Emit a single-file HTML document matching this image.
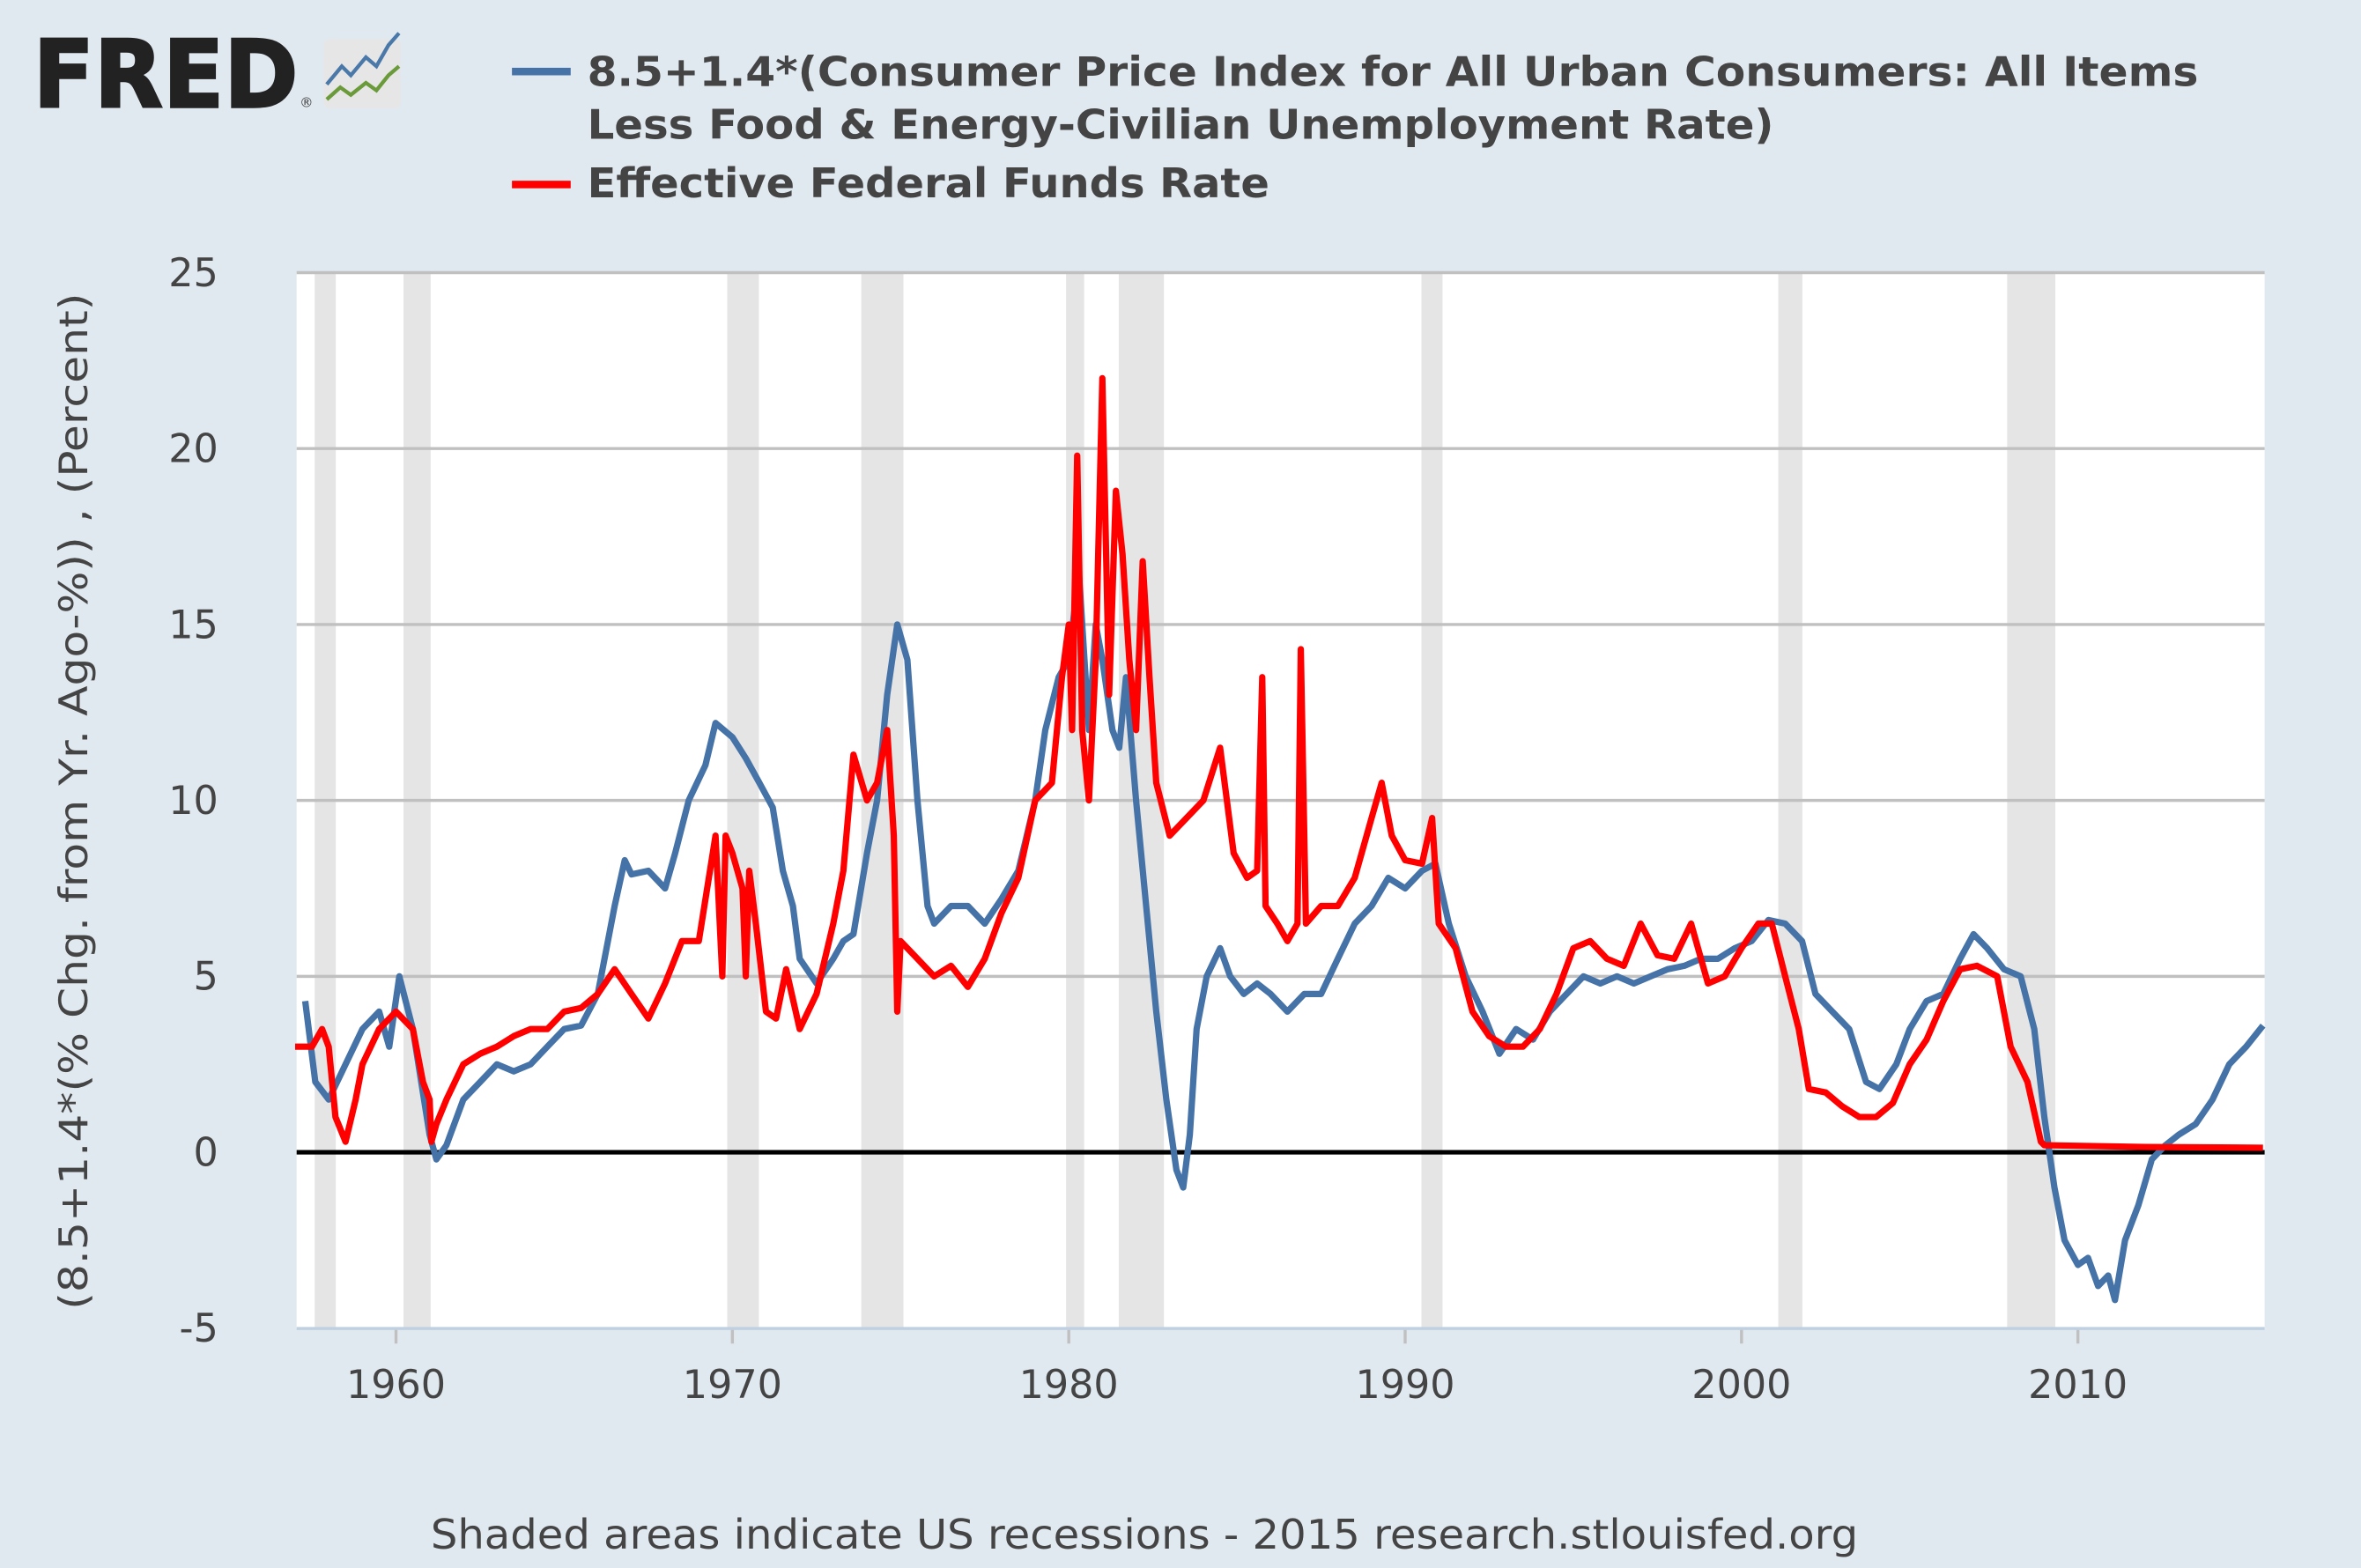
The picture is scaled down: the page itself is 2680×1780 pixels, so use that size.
<!DOCTYPE html>
<html><head><meta charset="utf-8"><style>
html,body{margin:0;padding:0;background:#e1e9f0;}
svg{display:block}
text{font-family:"DejaVu Sans","Liberation Sans",sans-serif;}
</style></head><body>
<svg id="s" width="2680" height="1780" viewBox="0 0 1568 1041" preserveAspectRatio="none" xmlns="http://www.w3.org/2000/svg">
<rect width="1568" height="1041" fill="#e1e9f0"/>
<text x="22" y="71" font-family="Liberation Sans" font-weight="bold" font-size="62" fill="#222" textLength="176" lengthAdjust="spacingAndGlyphs" stroke="#222" stroke-width="1.5">FRED</text>
<text x="199" y="71" font-size="9" fill="#444">®</text>
<rect x="215" y="26" width="51" height="46" rx="4" fill="#e6e6e6"/>
<polyline points="217,56 227,44 233,50 243,38 250,44 258,30 265,22" fill="none" stroke="#4a78a8" stroke-width="2.5"/>
<polyline points="217,66 226,58 233,63 243,55 250,60 258,50 265,44" fill="none" stroke="#6a9a3a" stroke-width="2.5"/>
<rect x="340" y="45" width="39" height="5" fill="#4572a7"/>
<rect x="340" y="120" width="39" height="5" fill="#ff0000"/>
<g font-weight="bold" font-size="27" fill="#444">
<text x="390" y="57" textLength="1070" lengthAdjust="spacingAndGlyphs">8.5+1.4*(Consumer Price Index for All Urban Consumers: All Items</text>
<text x="390" y="92" textLength="788" lengthAdjust="spacingAndGlyphs">Less Food &amp; Energy-Civilian Unemployment Rate)</text>
<text x="390" y="131" textLength="453" lengthAdjust="spacingAndGlyphs">Effective Federal Funds Rate</text>
</g>
<rect x="197" y="181" width="1307" height="701" fill="#fff"/>
<g id="rec" fill="#e5e5e5"></g>
<g id="grid" stroke="#c0c0c0" stroke-width="2"></g>
<g id="ylab" font-size="26" fill="#444" text-anchor="end"></g>
<g id="xlab" font-size="26" fill="#444" text-anchor="middle"></g>
<line x1="197" y1="882" x2="1504" y2="882" stroke="#c0d0e0" stroke-width="2"/>
<line x1="197" y1="765" x2="1504" y2="765" stroke="#000" stroke-width="3"/>
<polyline id="blue" fill="none" stroke="#4572a7" stroke-width="4.2" stroke-linejoin="round"/>
<polyline id="red" fill="none" stroke="#ff0000" stroke-width="4.2" stroke-linejoin="round"/>
<text transform="translate(58,532) rotate(-90)" font-size="26" fill="#444" text-anchor="middle" textLength="675" lengthAdjust="spacingAndGlyphs">(8.5+1.4*(% Chg. from Yr. Ago-%)) , (Percent)</text>
<text x="760" y="1028" font-size="27" fill="#444" text-anchor="middle" textLength="948" lengthAdjust="spacingAndGlyphs">Shaded areas indicate US recessions - 2015 research.stlouisfed.org</text>
</svg>
<script>
var NS="http://www.w3.org/2000/svg";
function X(y){return 263+(y-1960)*22.34;}
function Y(v){return 765-v*23.36;}
function el(p,t,a,txt){var e=document.createElementNS(NS,t);for(var k in a)e.setAttribute(k,a[k]);if(txt!=null)e.textContent=txt;document.getElementById(p).appendChild(e);}
[[209,223],[268,286],[483,504],[572,600],[708,720],[743,773],[944,958],[1181,1197],[1333,1365]].forEach(function(r){el("rec","rect",{x:r[0],y:181,width:r[1]-r[0],height:701});});
for(var v=25;v>=-5;v-=5){if(v!=0&&v!=-5)el("grid","line",{x1:197,x2:1504,y1:Y(v),y2:Y(v)});el("ylab","text",{x:145,y:Y(v)+9},String(v));}
for(var yr=1960;yr<=2010;yr+=10){el("xlab","text",{x:X(yr),y:928},String(yr));el("grid","line",{x1:X(yr),x2:X(yr),y1:882,y2:892});}
var b=[1957.3,4.3,1957.6,2.0,1958.0,1.5,1958.5,2.5,1959,3.5,1959.5,4.0,1959.8,3.0,1960.1,5.0,1960.5,3.5,1961,0.5,1961.2,-0.2,1961.5,0.2,1962,1.5,1962.5,2.0,1963,2.5,1963.5,2.3,1964,2.5,1964.5,3.0,1965,3.5,1965.5,3.6,1966,4.5,1966.5,7.0,1966.8,8.3,1967,7.9,1967.5,8.0,1968,7.5,1968.3,8.5,1968.7,10.0,1969.2,11.0,1969.5,12.2,1970,11.8,1970.4,11.2,1970.8,10.5,1971.2,9.8,1971.5,8.0,1971.8,7.0,1972,5.5,1972.5,4.8,1973,5.5,1973.3,6.0,1973.6,6.2,1974,8.5,1974.3,10.0,1974.6,13.0,1974.9,15.0,1975.2,14.0,1975.5,10.0,1975.8,7.0,1976,6.5,1976.5,7.0,1977,7.0,1977.5,6.5,1978,7.2,1978.5,8.0,1979,10.0,1979.3,12.0,1979.7,13.5,1980,14.0,1980.3,16.5,1980.6,12.0,1980.8,15.0,1981,14.0,1981.3,12.0,1981.5,11.5,1981.7,13.5,1982,10.0,1982.3,7.0,1982.6,4.0,1982.9,1.5,1983.2,-0.5,1983.4,-1.0,1983.6,0.5,1983.8,3.5,1984.1,5.0,1984.5,5.8,1984.8,5.0,1985.2,4.5,1985.6,4.8,1986,4.5,1986.5,4.0,1987,4.5,1987.5,4.5,1988,5.5,1988.5,6.5,1989,7.0,1989.5,7.8,1990,7.5,1990.5,8.0,1990.9,8.2,1991.3,6.5,1991.8,5.0,1992.3,4.0,1992.8,2.8,1993.3,3.5,1993.8,3.2,1994.3,4.0,1994.8,4.5,1995.3,5.0,1995.8,4.8,1996.3,5.0,1996.8,4.8,1997.3,5.0,1997.8,5.2,1998.3,5.3,1998.8,5.5,1999.3,5.5,1999.8,5.8,2000.3,6.0,2000.8,6.6,2001.3,6.5,2001.8,6.0,2002.2,4.5,2002.7,4.0,2003.2,3.5,2003.7,2.0,2004.1,1.8,2004.6,2.5,2005,3.5,2005.5,4.3,2006,4.5,2006.5,5.5,2006.9,6.2,2007.3,5.8,2007.8,5.2,2008.3,5.0,2008.7,3.5,2009,1.0,2009.3,-1.0,2009.6,-2.5,2010,-3.2,2010.3,-3.0,2010.6,-3.8,2010.9,-3.5,2011.1,-4.2,2011.4,-2.5,2011.8,-1.5,2012.2,-0.2,2012.6,0.2,2013,0.5,2013.5,0.8,2014,1.5,2014.5,2.5,2015,3.0,2015.5,3.6];
var r=[1957,3.0,1957.5,3.0,1957.8,3.5,1958,3.0,1958.2,1.0,1958.5,0.3,1958.8,1.5,1959,2.5,1959.5,3.5,1960,4.0,1960.5,3.5,1960.8,2.0,1961,1.5,1961.05,0.3,1961.2,0.8,1961.5,1.5,1962,2.5,1962.5,2.8,1963,3.0,1963.5,3.3,1964,3.5,1964.5,3.5,1965,4.0,1965.5,4.1,1966,4.5,1966.5,5.2,1967,4.5,1967.5,3.8,1968,4.8,1968.5,6.0,1969,6.0,1969.5,9.0,1969.7,5.0,1969.8,9.0,1970,8.5,1970.3,7.5,1970.4,5.0,1970.5,8.0,1970.7,6.5,1971,4.0,1971.3,3.8,1971.6,5.2,1972,3.5,1972.5,4.5,1973,6.5,1973.3,8.0,1973.6,11.3,1974,10.0,1974.3,10.5,1974.6,12.0,1974.8,9.0,1974.9,4.0,1975.0,6.0,1975.5,5.5,1976,5.0,1976.5,5.3,1977,4.7,1977.5,5.5,1978,6.8,1978.5,7.8,1979,10.0,1979.5,10.5,1979.8,13.5,1980.0,15.0,1980.1,12.0,1980.25,19.8,1980.4,12.0,1980.6,10.0,1980.8,14.0,1981.0,22.0,1981.2,13.0,1981.4,18.8,1981.6,17.0,1981.8,14.0,1982,12.0,1982.2,16.8,1982.4,13.5,1982.6,10.5,1983,9.0,1983.5,9.5,1984,10.0,1984.5,11.5,1984.9,8.5,1985.3,7.8,1985.6,8.0,1985.75,13.5,1985.85,7.0,1986.2,6.5,1986.5,6.0,1986.8,6.5,1986.9,14.3,1987.05,6.5,1987.5,7.0,1988,7.0,1988.5,7.8,1989,9.5,1989.3,10.5,1989.6,9.0,1990,8.3,1990.5,8.2,1990.8,9.5,1991,6.5,1991.5,5.8,1992,4.0,1992.5,3.3,1993,3.0,1993.5,3.0,1994,3.5,1994.5,4.5,1995,5.8,1995.5,6.0,1996,5.5,1996.5,5.3,1997,6.5,1997.5,5.6,1998,5.5,1998.5,6.5,1999,4.8,1999.5,5.0,2000,5.8,2000.5,6.5,2000.9,6.5,2001.3,5.0,2001.7,3.5,2002,1.8,2002.5,1.7,2003,1.3,2003.5,1.0,2004,1.0,2004.5,1.4,2005,2.5,2005.5,3.2,2006,4.3,2006.5,5.2,2007,5.3,2007.6,5.0,2008,3.0,2008.5,2.0,2008.9,0.3,2009,0.2,2012,0.15,2015.5,0.13];
function pts(a){var s=[];for(var i=0;i<a.length;i+=2)s.push(X(a[i]).toFixed(1)+","+Y(a[i+1]).toFixed(1));return s.join(" ");}
document.getElementById("blue").setAttribute("points",pts(b));
document.getElementById("red").setAttribute("points",pts(r));
</script>
</body></html>
